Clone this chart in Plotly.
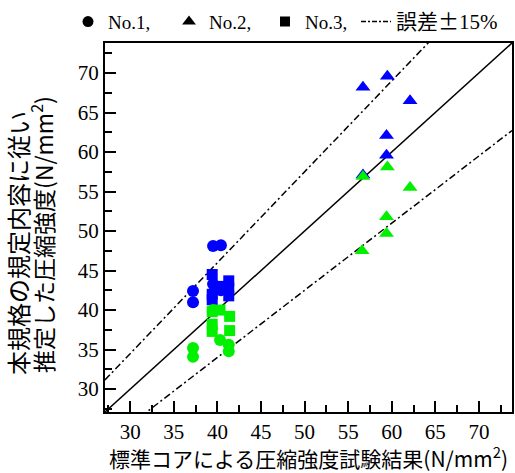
import plotly.graph_objects as go

# ---- data ----
no1_blue_x = [37.2, 37.2, 39.5, 40.4, 39.5, 40.4]
no1_blue_y = [42.4, 41.0, 48.1, 48.2, 43.3, 42.5]
no1_green_x = [37.2, 37.2, 39.5, 40.3, 41.3, 41.3]
no1_green_y = [35.2, 34.1, 40.0, 36.2, 35.6, 34.8]

no2_blue_x = [59.5, 56.7, 62.1, 59.4, 59.4, 56.7]
no2_blue_y = [69.6, 68.2, 66.5, 62.1, 59.6, 57.1]
no2_green_x = [59.5, 56.7, 62.1, 59.4, 59.4, 56.6]
no2_green_y = [58.1, 56.9, 55.5, 51.8, 49.7, 47.5]

no3_blue_x = [39.4, 39.4, 39.4, 41.3, 41.3, 41.3, 40.3]
no3_blue_y = [44.5, 42.0, 41.3, 43.7, 42.8, 41.8, 43.0]
no3_green_x = [39.4, 41.4, 41.4, 39.4, 39.4, 40.3]
no3_green_y = [39.8, 39.2, 37.4, 38.2, 37.3, 40.0]

axis_range = [27.1, 73.8]
err_ratio = 0.15
tick_vals = [30, 35, 40, 45, 50, 55, 60, 65, 70]

BLUE = "#0000FF"
GREEN = "#00F000"
SERIF = "Liberation Serif, Times New Roman, serif"
CJK = "Noto Sans CJK JP"

fig = go.Figure()

# reference lines
lx = axis_range
fig.add_trace(go.Scatter(x=lx, y=lx, mode="lines", line=dict(color="black", width=1.5),
                         showlegend=False, hoverinfo="skip"))
for r in (1 + err_ratio, 1 - err_ratio):
    fig.add_trace(go.Scatter(x=lx, y=[v * r for v in lx], mode="lines",
                             line=dict(color="black", width=1.5, dash="7px,3px,2px,3px"),
                             showlegend=False, hoverinfo="skip"))

# data markers (blue first, green on top)
def pts(x, y, sym, size, color):
    fig.add_trace(go.Scatter(x=x, y=y, mode="markers", showlegend=False,
                             marker=dict(symbol=sym, size=size, color=color,
                                         line=dict(width=0))))

pts(no1_blue_x, no1_blue_y, "circle", 12, BLUE)
pts(no3_blue_x, no3_blue_y, "square", 11, BLUE)
pts(no2_blue_x, no2_blue_y, "triangle-up", 13, BLUE)
pts(no1_green_x, no1_green_y, "circle", 12, GREEN)
pts(no3_green_x, no3_green_y, "square", 11, GREEN)
pts(no2_green_x, no2_green_y, "triangle-up", 13, GREEN)

# legend entries (one small legend each, so they sit on one row)
fig.add_trace(go.Scatter(x=[None], y=[None], mode="markers", name="No.1,", legend="legend",
                         marker=dict(symbol="circle", size=11, color="black")))
fig.add_trace(go.Scatter(x=[None], y=[None], mode="markers", name="No.2,", legend="legend2",
                         marker=dict(symbol="triangle-up", size=12, color="black")))
fig.add_trace(go.Scatter(x=[None], y=[None], mode="markers", name="No.3,", legend="legend3",
                         marker=dict(symbol="square", size=10, color="black")))
fig.add_trace(go.Scatter(
    x=[None], y=[None], mode="lines", legend="legend4",
    name='<span style="font-family:Noto Sans CJK JP;font-size:21px">誤差±</span>'
         '<span style="font-size:21px">15%</span>',
    line=dict(color="black", width=1.5, dash="5px,2px,2px,2px")))

axis_common = dict(
    range=axis_range, tickvals=tick_vals, ticks="inside", ticklen=11, tickwidth=2,
    tickcolor="black", showline=True, linecolor="black", linewidth=2, mirror=True,
    showgrid=False, zeroline=False,
    tickfont=dict(family=SERIF, size=21, color="black"),
    minor=dict(tick0=27.5, dtick=2.5, ticks="inside", ticklen=7, tickwidth=2, tickcolor="black"),
)

def leg(xpx):
    return dict(orientation="h", xref="container", yref="container",
                x=xpx / 515, y=0.954, xanchor="left", yanchor="middle",
                font=dict(family=SERIF, size=19, color="black"),
                bgcolor="rgba(0,0,0,0)", itemwidth=30)

fig.update_layout(
    width=515, height=473,
    margin=dict(l=105, r=3, t=43, b=61, autoexpand=False),
    paper_bgcolor="white", plot_bgcolor="white",
    xaxis=dict(**axis_common,
               title=dict(text="標準コアによる圧縮強度試験結果(N/mm<sup>2</sup>)",
                          font=dict(family=CJK, size=21, color="black"), standoff=0)),
    yaxis=dict(**axis_common),
    showlegend=True,
    legend=leg(68), legend2=leg(169), legend3=leg(265), legend4=leg(356),
    annotations=[
        dict(text="本規格の規定内容に従い", xref="paper", yref="paper",
             x=0, y=0.458, xshift=-87, xanchor="center", yanchor="middle",
             textangle=-90, showarrow=False,
             font=dict(family=CJK, size=24, color="black")),
        dict(text="推定した圧縮強度(N/mm<sup>2</sup>)", xref="paper", yref="paper",
             x=0, y=0.48, xshift=-63, xanchor="center", yanchor="middle",
             textangle=-90, showarrow=False,
             font=dict(family=CJK, size=23, color="black")),
    ],
)

fig.write_html("out.html", config={"displayModeBar": False},
               post_script="document.body.style.margin='0';")
